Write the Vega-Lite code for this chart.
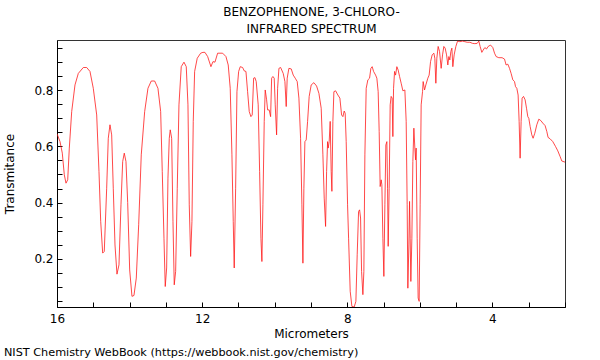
{
  "$schema": "https://vega.github.io/schema/vega-lite/v6.json",
  "width": 508,
  "height": 267,
  "autosize": {"type": "none"},
  "padding": {"left": 57, "top": 40, "right": 35, "bottom": 53},
  "background": "white",
  "title": {"text": "NIST Chemistry WebBook (https://webbook.nist.gov/chemistry)", "orient": "bottom", "anchor": "start", "frame": "bounds", "fontSize": 11.25, "fontWeight": "normal", "font": "DejaVu Sans", "offset": 8, "color": "#000"},
  "config": {
    "view": {"stroke": "#333", "strokeWidth": 1},
    "axis": {"labelFont": "DejaVu Sans", "titleFont": "DejaVu Sans", "labelFontSize": 12, "titleFontSize": 12, "titleFontWeight": "normal", "labelColor": "#000", "titleColor": "#000", "domainColor": "#000", "tickColor": "#000", "grid": false}
  },
  "data": {"values": [
{"w":16.0,"t":0.645},{"w":15.917,"t":0.617},{"w":15.854,"t":0.576},{"w":15.799,"t":0.499},{"w":15.752,"t":0.469},{"w":15.705,"t":0.481},{"w":15.661,"t":0.594},{"w":15.595,"t":0.724},{"w":15.504,"t":0.819},{"w":15.413,"t":0.860},{"w":15.275,"t":0.881},{"w":15.182,"t":0.881},{"w":15.091,"t":0.867},{"w":15.0,"t":0.807},{"w":14.906,"t":0.712},{"w":14.843,"t":0.511},{"w":14.796,"t":0.333},{"w":14.741,"t":0.220},{"w":14.697,"t":0.226},{"w":14.631,"t":0.451},{"w":14.587,"t":0.629},{"w":14.540,"t":0.677},{"w":14.493,"t":0.641},{"w":14.449,"t":0.451},{"w":14.402,"t":0.249},{"w":14.347,"t":0.145},{"w":14.292,"t":0.178},{"w":14.237,"t":0.392},{"w":14.190,"t":0.546},{"w":14.146,"t":0.576},{"w":14.099,"t":0.546},{"w":14.052,"t":0.400},{"w":13.997,"t":0.160},{"w":13.934,"t":0.066},{"w":13.879,"t":0.069},{"w":13.815,"t":0.131},{"w":13.749,"t":0.321},{"w":13.678,"t":0.570},{"w":13.584,"t":0.724},{"w":13.493,"t":0.807},{"w":13.402,"t":0.833},{"w":13.309,"t":0.833},{"w":13.218,"t":0.807},{"w":13.143,"t":0.724},{"w":13.099,"t":0.511},{"w":13.052,"t":0.273},{"w":13.017,"t":0.101},{"w":12.978,"t":0.167},{"w":12.942,"t":0.487},{"w":12.906,"t":0.629},{"w":12.879,"t":0.659},{"w":12.840,"t":0.629},{"w":12.804,"t":0.333},{"w":12.769,"t":0.107},{"w":12.730,"t":0.155},{"w":12.686,"t":0.451},{"w":12.639,"t":0.748},{"w":12.576,"t":0.884},{"w":12.501,"t":0.900},{"w":12.438,"t":0.884},{"w":12.391,"t":0.748},{"w":12.355,"t":0.392},{"w":12.317,"t":0.208},{"w":12.281,"t":0.333},{"w":12.245,"t":0.689},{"w":12.207,"t":0.867},{"w":12.135,"t":0.914},{"w":12.041,"t":0.932},{"w":11.978,"t":0.935},{"w":11.923,"t":0.935},{"w":11.848,"t":0.920},{"w":11.758,"t":0.884},{"w":11.702,"t":0.902},{"w":11.647,"t":0.900},{"w":11.573,"t":0.932},{"w":11.435,"t":0.932},{"w":11.344,"t":0.920},{"w":11.281,"t":0.890},{"w":11.226,"t":0.807},{"w":11.179,"t":0.570},{"w":11.143,"t":0.333},{"w":11.116,"t":0.167},{"w":11.077,"t":0.451},{"w":11.041,"t":0.795},{"w":10.994,"t":0.867},{"w":10.950,"t":0.884},{"w":10.884,"t":0.881},{"w":10.840,"t":0.869},{"w":10.793,"t":0.867},{"w":10.747,"t":0.795},{"w":10.702,"t":0.724},{"w":10.656,"t":0.706},{"w":10.620,"t":0.712},{"w":10.581,"t":0.843},{"w":10.545,"t":0.845},{"w":10.510,"t":0.831},{"w":10.455,"t":0.748},{"w":10.416,"t":0.511},{"w":10.380,"t":0.273},{"w":10.353,"t":0.190},{"w":10.325,"t":0.392},{"w":10.289,"t":0.689},{"w":10.262,"t":0.801},{"w":10.223,"t":0.766},{"w":10.196,"t":0.730},{"w":10.152,"t":0.730},{"w":10.113,"t":0.706},{"w":10.085,"t":0.843},{"w":10.050,"t":0.849},{"w":10.014,"t":0.843},{"w":9.986,"t":0.748},{"w":9.948,"t":0.641},{"w":9.920,"t":0.807},{"w":9.884,"t":0.878},{"w":9.837,"t":0.881},{"w":9.766,"t":0.860},{"w":9.719,"t":0.831},{"w":9.683,"t":0.742},{"w":9.656,"t":0.843},{"w":9.609,"t":0.878},{"w":9.545,"t":0.876},{"w":9.490,"t":0.854},{"w":9.435,"t":0.843},{"w":9.380,"t":0.831},{"w":9.333,"t":0.772},{"w":9.287,"t":0.629},{"w":9.251,"t":0.392},{"w":9.223,"t":0.184},{"w":9.196,"t":0.451},{"w":9.168,"t":0.617},{"w":9.132,"t":0.623},{"w":9.094,"t":0.689},{"w":9.050,"t":0.778},{"w":8.994,"t":0.819},{"w":8.920,"t":0.827},{"w":8.846,"t":0.815},{"w":8.782,"t":0.789},{"w":8.719,"t":0.736},{"w":8.672,"t":0.570},{"w":8.636,"t":0.416},{"w":8.598,"t":0.315},{"w":8.570,"t":0.511},{"w":8.543,"t":0.617},{"w":8.526,"t":0.594},{"w":8.499,"t":0.617},{"w":8.471,"t":0.689},{"w":8.444,"t":0.511},{"w":8.424,"t":0.440},{"w":8.397,"t":0.689},{"w":8.369,"t":0.795},{"w":8.322,"t":0.798},{"w":8.259,"t":0.783},{"w":8.204,"t":0.772},{"w":8.157,"t":0.712},{"w":8.121,"t":0.706},{"w":8.085,"t":0.726},{"w":8.058,"t":0.718},{"w":8.030,"t":0.617},{"w":7.992,"t":0.392},{"w":7.964,"t":0.273},{"w":7.920,"t":0.084},{"w":7.873,"t":0.030},{"w":7.810,"t":0.028},{"w":7.763,"t":0.048},{"w":7.727,"t":0.214},{"w":7.689,"t":0.368},{"w":7.661,"t":0.374},{"w":7.634,"t":0.345},{"w":7.606,"t":0.155},{"w":7.570,"t":0.072},{"w":7.543,"t":0.155},{"w":7.515,"t":0.570},{"w":7.479,"t":0.807},{"w":7.433,"t":0.837},{"w":7.386,"t":0.843},{"w":7.350,"t":0.878},{"w":7.314,"t":0.884},{"w":7.275,"t":0.867},{"w":7.220,"t":0.854},{"w":7.185,"t":0.843},{"w":7.149,"t":0.795},{"w":7.121,"t":0.653},{"w":7.094,"t":0.457},{"w":7.066,"t":0.481},{"w":7.047,"t":0.463},{"w":7.019,"t":0.273},{"w":6.992,"t":0.137},{"w":6.964,"t":0.392},{"w":6.937,"t":0.605},{"w":6.909,"t":0.617},{"w":6.890,"t":0.451},{"w":6.873,"t":0.244},{"w":6.846,"t":0.451},{"w":6.818,"t":0.748},{"w":6.791,"t":0.778},{"w":6.763,"t":0.772},{"w":6.744,"t":0.635},{"w":6.725,"t":0.807},{"w":6.697,"t":0.867},{"w":6.669,"t":0.854},{"w":6.634,"t":0.884},{"w":6.598,"t":0.872},{"w":6.559,"t":0.849},{"w":6.515,"t":0.825},{"w":6.468,"t":0.798},{"w":6.413,"t":0.801},{"w":6.377,"t":0.689},{"w":6.350,"t":0.392},{"w":6.331,"t":0.095},{"w":6.303,"t":0.249},{"w":6.284,"t":0.404},{"w":6.267,"t":0.273},{"w":6.248,"t":0.119},{"w":6.220,"t":0.273},{"w":6.193,"t":0.546},{"w":6.165,"t":0.665},{"w":6.138,"t":0.594},{"w":6.118,"t":0.552},{"w":6.102,"t":0.594},{"w":6.074,"t":0.273},{"w":6.047,"t":0.060},{"w":6.019,"t":0.048},{"w":5.992,"t":0.392},{"w":5.964,"t":0.748},{"w":5.926,"t":0.795},{"w":5.909,"t":0.831},{"w":5.871,"t":0.801},{"w":5.835,"t":0.819},{"w":5.780,"t":0.843},{"w":5.744,"t":0.854},{"w":5.705,"t":0.902},{"w":5.661,"t":0.926},{"w":5.614,"t":0.932},{"w":5.587,"t":0.914},{"w":5.559,"t":0.825},{"w":5.532,"t":0.914},{"w":5.496,"t":0.956},{"w":5.457,"t":0.938},{"w":5.413,"t":0.878},{"w":5.375,"t":0.926},{"w":5.339,"t":0.956},{"w":5.303,"t":0.950},{"w":5.264,"t":0.926},{"w":5.229,"t":0.890},{"w":5.201,"t":0.920},{"w":5.174,"t":0.908},{"w":5.146,"t":0.938},{"w":5.118,"t":0.950},{"w":5.091,"t":0.884},{"w":5.055,"t":0.926},{"w":5.008,"t":0.956},{"w":4.961,"t":0.975},{"w":4.898,"t":0.973},{"w":4.824,"t":0.975},{"w":4.760,"t":0.973},{"w":4.697,"t":0.971},{"w":4.623,"t":0.971},{"w":4.548,"t":0.967},{"w":4.485,"t":0.966},{"w":4.421,"t":0.967},{"w":4.375,"t":0.975},{"w":4.339,"t":0.956},{"w":4.292,"t":0.935},{"w":4.256,"t":0.943},{"w":4.209,"t":0.952},{"w":4.163,"t":0.947},{"w":4.118,"t":0.956},{"w":4.052,"t":0.961},{"w":3.989,"t":0.952},{"w":3.942,"t":0.932},{"w":3.898,"t":0.920},{"w":3.824,"t":0.916},{"w":3.733,"t":0.916},{"w":3.667,"t":0.911},{"w":3.623,"t":0.890},{"w":3.576,"t":0.893},{"w":3.529,"t":0.878},{"w":3.485,"t":0.860},{"w":3.438,"t":0.837},{"w":3.391,"t":0.831},{"w":3.364,"t":0.813},{"w":3.328,"t":0.807},{"w":3.292,"t":0.783},{"w":3.264,"t":0.689},{"w":3.237,"t":0.558},{"w":3.209,"t":0.689},{"w":3.182,"t":0.772},{"w":3.143,"t":0.778},{"w":3.099,"t":0.766},{"w":3.061,"t":0.736},{"w":3.025,"t":0.706},{"w":2.997,"t":0.700},{"w":2.961,"t":0.671},{"w":2.915,"t":0.641},{"w":2.879,"t":0.629},{"w":2.832,"t":0.647},{"w":2.777,"t":0.677},{"w":2.722,"t":0.697},{"w":2.667,"t":0.692},{"w":2.612,"t":0.683},{"w":2.548,"t":0.674},{"w":2.501,"t":0.653},{"w":2.466,"t":0.632},{"w":2.410,"t":0.627},{"w":2.336,"t":0.617},{"w":2.262,"t":0.600},{"w":2.198,"t":0.584},{"w":2.135,"t":0.564},{"w":2.088,"t":0.548},{"w":2.0,"t":0.544}
  ]},
  "encoding": {
    "y": {"field": "t", "type": "quantitative",
      "scale": {"domain": [0.028, 0.979], "nice": false, "zero": false},
      "axis": {"title": "Transmitance", "values": [0.05,0.1,0.15,0.2,0.25,0.3,0.35,0.4,0.45,0.5,0.55,0.6,0.65,0.7,0.75,0.8,0.85,0.9,0.95],
        "labelExpr": "(round(datum.value*20) % 4 == 0) ? format(datum.value, '.1f') : ''",
        "tickSize": -5, "labelPadding": 9, "titlePadding": 17, "labelOverlap": false}}
  },
  "layer": [
    {
      "mark": {"type": "line", "color": "#ff1a1a", "strokeWidth": 0.8, "clip": true},
      "encoding": {
        "x": {"field": "w", "type": "quantitative",
          "scale": {"domain": [2, 16], "reverse": true, "nice": false, "zero": false},
          "axis": {"title": "Micrometers", "values": [2,3,4,5,6,7,8,9,10,11,12,13,14,15,16],
            "labelExpr": "datum.value % 4 == 0 ? datum.label : ''",
            "tickSize": -5, "labelPadding": 11, "titlePadding": 4, "labelFlush": false, "labelOverlap": false}}
      }
    },
    {
      "mark": {"type": "line", "opacity": 0},
      "encoding": {
        "x": {"field": "w", "type": "quantitative",
          "scale": {"domain": [2, 16], "reverse": true, "nice": false, "zero": false},
          "axis": {"orient": "top", "title": ["BENZOPHENONE, 3-CHLORO-", "INFRARED SPECTRUM"], "titleLineHeight": 17,
            "labels": false, "ticks": false, "domain": false, "titlePadding": 5}}
      }
    }
  ],
  "resolve": {"axis": {"x": "independent"}}
}
